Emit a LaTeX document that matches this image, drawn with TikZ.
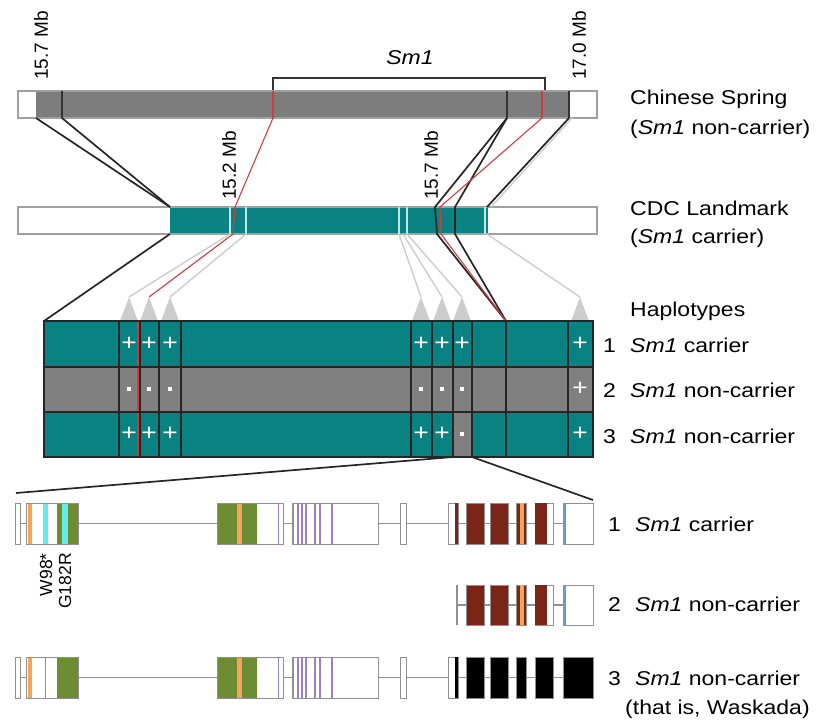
\documentclass[tikz,border=0pt]{standalone}
\usepackage{fontspec}
\setmainfont{Liberation Sans}[FakeStretch=1.15]
\newfontfamily\mbfont{Liberation Sans}
\usetikzlibrary{positioning}
\definecolor{csgray}{HTML}{7D7D7D}
\definecolor{cdcteal}{HTML}{0A8282}
\definecolor{hapgray}{HTML}{808080}
\definecolor{barline}{HTML}{A0A0A0}
\definecolor{tealtick}{HTML}{BDE8E8}
\definecolor{lightconn}{HTML}{CDCDCD}
\definecolor{snpred}{HTML}{D23C3C}
\definecolor{exorange}{HTML}{F5A55A}
\definecolor{excyan}{HTML}{66EBEB}
\definecolor{exgreen}{HTML}{6E8C32}
\definecolor{expurple}{HTML}{9A80C8}
\definecolor{exbrown}{HTML}{7B2418}
\definecolor{exblue}{HTML}{6E96D2}
\definecolor{exline}{HTML}{909090}
\newcommand{\smone}{\textit{Sm1}}

\begin{document}
\begin{tikzpicture}[
  x=1pt, y=-1pt,
  lbl/.style={anchor=base west, inner sep=0pt, font=\fontsize{20}{24}\selectfont},
  mblbl/.style={anchor=west, rotate=90, inner sep=0pt, font=\mbfont\fontsize{19}{22}\selectfont},
  mutlbl/.style={anchor=east, rotate=90, inner sep=0pt, font=\mbfont\fontsize{17.5}{20}\selectfont},
  sign/.style={text=white, inner sep=0pt, font=\fontsize{23}{24}\selectfont},
  minus/.style={fill=white, minimum width=3.5pt, minimum height=3.5pt, inner sep=0pt},
  chrom/.style={draw=barline, line width=1.2pt},
  conn/.style={draw=black!85, line width=1.7pt},
  redconn/.style={draw=snpred, line width=1.1pt},
  greyconn/.style={draw=lightconn, line width=1.4pt},
  hapline/.style={draw=black!85, line width=1.2pt},
  exon/.style={draw=exline, line width=1pt},
  intron/.style={draw=exline, line width=1.1pt}
]
\useasboundingbox (0,0) rectangle (816,726);

% Chinese Spring bar
\fill[csgray] (36,91) rectangle (570,118);
\draw[chrom] (18,91) rectangle (597,118);
\foreach \x in {62,507,569} \draw[black!80, line width=1.2pt] (\x,91) -- (\x,118);
\foreach \x in {273,542} \draw[redconn] (\x,91) -- (\x,118);
\coordinate (cs1) at (36,118);
\coordinate (cs2) at (62,118);
\coordinate (csr1) at (273,118);
\coordinate (cs3) at (507,118);
\coordinate (csr2) at (542,118);
\coordinate (cs4) at (569,118);
\node[mblbl] (mbleft) at (41,80) {15.7 Mb};
\node[mblbl] (mbright) at (579,80) {17.0 Mb};
\coordinate (brl) at (273,90);
\coordinate (brr) at (545,90);
\draw[black!80, line width=1.2pt] (brl) -- ++(0,-12) -| (brr);
\node[font=\fontsize{20}{24}\selectfont\itshape] (smlbl) at (410,58) {Sm1};

% CDC Landmark bar
\fill[cdcteal] (170,207) rectangle (488,234);
\draw[chrom] (18,207) rectangle (597,234);
\foreach \x in {230,246,399,407,485} \draw[tealtick, line width=1.3pt] (\x,207) -- (\x,234);
\coordinate (cdcl) at (170,207);
\coordinate (cdclb) at (170,234);
\node[mblbl] (mbmid1) at (229,200) {15.2 Mb};
\node[mblbl] (mbmid2) at (431,200) {15.7 Mb};

% haplotype block corners
\coordinate (hapl) at (44,321);
\coordinate (hapk) at (506,321);

% grey links and triangles
\foreach \x/\a in {129/230,170/246,421/399,442/403,462/407,580/487} {
  \draw[greyconn] (\a,234) -- (\x,297);
  \fill[lightconn] (\x-9,321) -- (\x,297) -- (\x+9,321) -- cycle;
}
\fill[lightconn] (140,321) -- (149,297) -- (158,321) -- cycle;
\draw[greyconn] (cs4) ++(3,0) -- (491,207);

% links between bars
\draw[conn] (cs1) -- (cdcl);
\draw[conn] (cs2) -- (cdcl);
\draw[conn] (cdclb) -- (hapl);
\draw[redconn] (csr1) -- (235,207) -- (233,234) -- (149,297);
\draw[conn] (cs3) -- (435,207) -- (437,234) -- (hapk);
\draw[conn] (cs3) -- (455,207) -- (455,234) -- (hapk);
\draw[redconn] (csr2) -- (440,207) -- (441,234) -- (hapk);
\draw[conn] (cs4) -- (487,207);

% haplotypes
\fill[cdcteal] (44,321) rectangle (593,367);
\fill[hapgray] (44,367) rectangle (593,412);
\fill[cdcteal] (44,412) rectangle (593,457);
\fill[hapgray] (453,412) rectangle (472,457);
\draw[redconn] (138,321) -- (138,457);
\foreach \x in {119,140,159,181,411,432,453,472,506,568} \draw[hapline] (\x,321) -- (\x,457);
\foreach \y in {367,412} \draw[black!85, line width=2pt] (44,\y) -- (593,\y);
\draw[hapline] (44,321) rectangle (593,457);
\foreach \x in {129,149,170,421,442,462,580} \node[sign] at (\x,344) {+};
\foreach \x in {129,149,170,421,442,462} \node[minus] at (\x,389) {};
\node[sign] at (580,389) {+};
\foreach \x in {129,149,170,421,442,580} \node[sign] at (\x,434) {+};
\node[minus] at (462,434) {};

% zoom to gene
\coordinate (hapg1) at (453,457);
\coordinate (hapg2) at (472,457);
\draw[conn] (hapg1) -- (16,493);
\draw[conn] (hapg2) -- (593,500);

% gene models, left half (rows 1 and 3)
\foreach \t/\b/\m in {503/544/523.5, 657/698/677.5} {
  \draw[intron] (15,\m) -- (448,\m);
  \draw[exon, fill=white] (15,\t) rectangle (20,\b);
  \fill[white] (26,\t) rectangle (78,\b);
  \fill[exorange] (27.5,\t) rectangle (32,\b);
  \fill[exgreen] (57,\t) rectangle (78,\b);
  \draw[exon] (26,\t) rectangle (78,\b);
  \fill[white] (217,\t) rectangle (278,\b);
  \fill[exgreen] (217,\t) rectangle (257,\b);
  \fill[exorange] (237,\t) rectangle (242,\b);
  \draw[exon] (217,\t) rectangle (278,\b);
  \draw[exon, draw=expurple, fill=white] (278,\t) rectangle (283,\b);
  \fill[white] (292,\t) rectangle (378,\b);
  \foreach \x in {293,298,302,306,315,320,332} \draw[expurple, line width=1.5pt] (\x,\t) -- (\x,\b);
  \draw[exon] (292,\t) rectangle (378,\b);
  \draw[exon, fill=white] (400,\t) rectangle (406,\b);
}
\fill[excyan] (43,503) rectangle (48,544);
\fill[excyan] (62,503) rectangle (68,544);
\draw[exon] (26,503) rectangle (78,544);
\draw[exline, line width=0.8pt] (45,657) -- (45,698);

% gene models, right half
\foreach \t/\b/\m/\s/\c in {503/544/523.5/448/exbrown, 585/625/605/457/exbrown, 657/698/677.5/448/black} {
  \draw[intron] (\s,\m) -- (563,\m);
  \draw[exon, fill=\c] (466,\t) rectangle (484,\b);
  \draw[exon, fill=\c] (490,\t) rectangle (508,\b);
  \draw[exon, fill=\c] (516,\t) rectangle (526,\b);
}
\foreach \t/\b in {503/544, 585/625} {
  \fill[exorange] (519.5,\t) rectangle (523.5,\b);
  \draw[exon, fill=white] (535,\t) rectangle (553,\b);
  \fill[exbrown] (535,\t) rectangle (547,\b);
  \draw[exon, fill=white] (563,\t) rectangle (593,\b);
  \draw[exblue, line width=1.5pt] (565,\t) -- (565,\b);
}
\foreach \t/\b/\c in {503/544/exbrown, 657/698/black} {
  \draw[exon, fill=white] (448,\t) rectangle (458,\b);
  \fill[\c] (454.5,\t) rectangle (457.5,\b);
}
\draw[intron] (457,585) -- (457,625);
\draw[exon, fill=black] (535,657) rectangle (553,698);
\draw[exon, fill=black] (563,657) rectangle (593,698);

% mutation labels
\node[mutlbl] (w98) at (46,553) {W98*};
\node[mutlbl] (g182r) at (65,553) {G182R};

% right-hand labels
\node[lbl] (cs) at (630,104) {Chinese Spring};
\node[lbl] (csnc) at (630,134) {(\smone\ non-carrier)};
\node[lbl] (cdc) at (630,215) {CDC Landmark};
\node[lbl] (cdcc) at (630,243) {(\smone\ carrier)};
\node[lbl] (hap) at (630,316) {Haplotypes};
\foreach \n/\y/\t in {1/352/carrier, 2/397/non-carrier, 3/443/non-carrier} {
  \node[lbl] (hapn\n) at (603,\y) {\n};
  \node[lbl] (hapt\n) at (630,\y) {\smone\ \t};
}
\foreach \n/\y/\t in {1/531/carrier, 2/611/non-carrier, 3/685/non-carrier} {
  \node[lbl] (genen\n) at (608,\y) {\n};
  \node[lbl] (genet\n) at (635,\y) {\smone\ \t};
}
\node[lbl] (wask) at (625,714) {(that is, Waskada)};
\end{tikzpicture}
\end{document}
